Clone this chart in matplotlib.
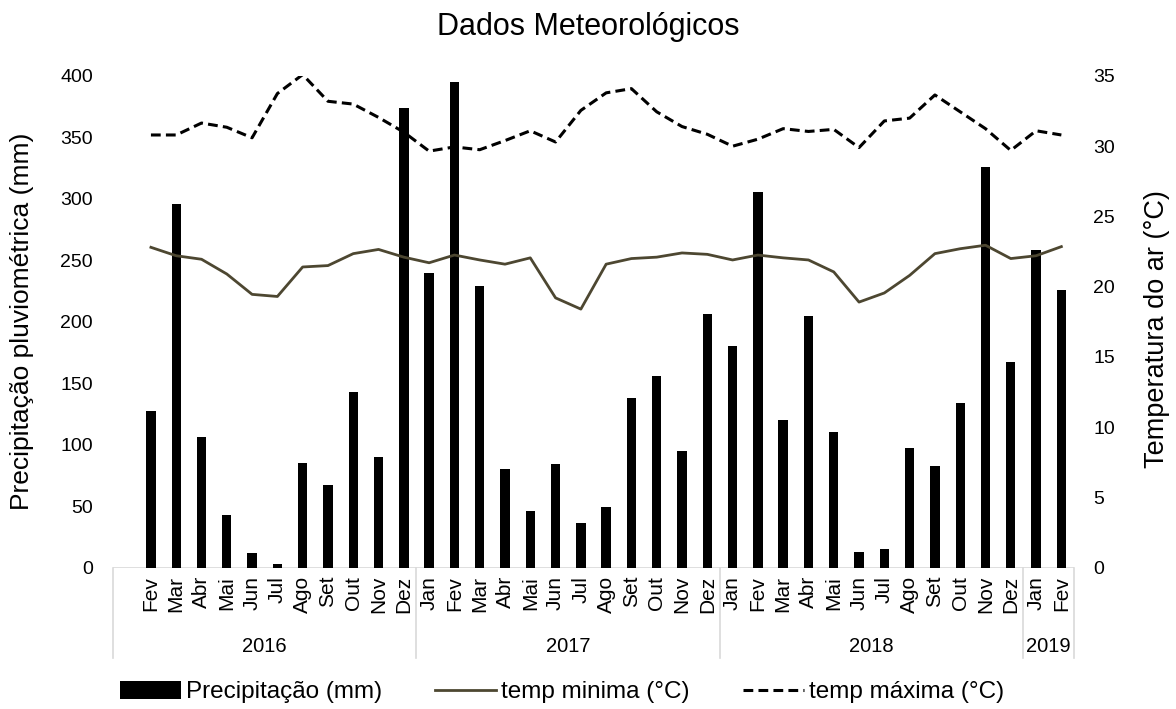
import matplotlib
matplotlib.use("Agg")
import matplotlib.pyplot as plt
import matplotlib.transforms as mtransforms
import numpy as np

plt.rcParams['font.family'] = ['Liberation Sans', 'DejaVu Sans']

# Categories (Jan 2016 is an empty slot in the original chart)
months = ["", "Fev", "Mar", "Abr", "Mai", "Jun", "Jul", "Ago", "Set", "Out", "Nov", "Dez",
          "Jan", "Fev", "Mar", "Abr", "Mai", "Jun", "Jul", "Ago", "Set", "Out", "Nov", "Dez",
          "Jan", "Fev", "Mar", "Abr", "Mai", "Jun", "Jul", "Ago", "Set", "Out", "Nov", "Dez",
          "Jan", "Fev"]
years = ["2016", "2017", "2018", "2019"]
year_sizes = [12, 12, 12, 2]

precip = [np.nan, 127, 296, 106, 43, 12, 3, 85, 67, 143, 90, 374,
          240, 395, 229, 80, 46, 84, 36, 49, 138, 156, 95, 206,
          180, 306, 120, 205, 110, 12.5, 15, 97.5, 82.5, 134, 326, 167,
          258, 226]
temp_min = [np.nan, 22.8, 22.2, 21.95, 20.9, 19.45, 19.3, 21.4, 21.5, 22.35, 22.65, 22.1,
            21.7, 22.25, 21.9, 21.6, 22.05, 19.2, 18.4, 21.6, 22.0, 22.1, 22.4, 22.3,
            21.9, 22.25, 22.05, 21.9, 21.05, 18.9, 19.55, 20.8, 22.35, 22.7, 22.95, 22.0,
            22.2, 22.85]
temp_max = [np.nan, 30.8, 30.8, 31.65, 31.35, 30.6, 33.75, 35.1, 33.2, 33.0, 32.05, 31.0,
            29.65, 29.95, 29.75, 30.4, 31.1, 30.3, 32.55, 33.8, 34.1, 32.45, 31.4, 30.85,
            30.0, 30.5, 31.25, 31.05, 31.2, 29.9, 31.8, 32.0, 33.65, 32.45, 31.25, 29.7,
            31.1, 30.8]

W, H = 1176, 709
fig = plt.figure(figsize=(W / 100, H / 100), dpi=100)
x0, x1 = 113, 1074
y_top, y_bot = 76, 567.5
ax = fig.add_axes([x0 / W, 1 - y_bot / H, (x1 - x0) / W, (y_bot - y_top) / H])
ax2 = ax.twinx()

x = np.arange(len(months))
ax.bar(x, precip, width=0.37, color="black", zorder=2, label="Precipitação (mm)")
ax2.plot(x, temp_min, color="#4d4731", lw=2.0, label="temp minima (°C)")
ax2.plot(x, temp_max, color="black", lw=2.2, dashes=(3.2, 1.7), label="temp máxima (°C)")

ax.set_xlim(-0.5, len(months) - 0.5)
ax.set_ylim(0, 400)
ax2.set_ylim(0, 35)
ax.set_yticks(np.arange(0, 401, 50))
ax2.set_yticks(np.arange(0, 36, 5))

for a in (ax, ax2):
    for s in a.spines.values():
        s.set_visible(False)
ax.tick_params(axis='y', length=0, pad=14.4, labelsize=14)
ax2.tick_params(axis='y', length=0, pad=13.7, labelsize=14)
ax.set_xticks(x)
ax.set_xticklabels(months, rotation=90, fontsize=15)
ax.tick_params(axis='x', length=0, pad=6)

grey = "#d9d9d9"
# category axis box
ax.axhline(0, color=grey, lw=1.2, zorder=1)
trans = mtransforms.blended_transform_factory(ax.transData, ax.transAxes)
box_bottom = -(658 - y_bot) / (y_bot - y_top)
bounds = [-0.5]
for n in year_sizes:
    bounds.append(bounds[-1] + n)
for b in bounds:
    ax.plot([b, b], [0, box_bottom], color=grey, lw=1.2, transform=trans, clip_on=False)
year_y = -(646 - y_bot) / (y_bot - y_top)
for i, yr in enumerate(years):
    cx = (bounds[i] + bounds[i + 1]) / 2
    ax.text(cx, year_y, yr, transform=trans, ha='center', va='center', fontsize=14.5)

ax.set_ylabel("Precipitação pluviométrica (mm)", fontsize=19)
ax.yaxis.set_label_coords((22 - x0) / (x1 - x0), 0.5)
ax.yaxis.label.set_va('center')
ax2.set_ylabel("Temperatura do ar (°C)", fontsize=19.5)
ax2.yaxis.set_label_coords((1157 - x0) / (x1 - x0), 0.485)
ax2.yaxis.label.set_va('center')
fig.text(0.5, 1 - 27 / H, "Dados Meteorológicos", ha='center', va='center', fontsize=22)

h1, l1 = ax.get_legend_handles_labels()
h2, l2 = ax2.get_legend_handles_labels()
fig.legend(h1 + h2, l1 + l2, loc='center', bbox_to_anchor=(562 / W, 1 - 692 / H), ncol=3,
           frameon=False, fontsize=17.5, handlelength=2.5, handletextpad=0.2,
           columnspacing=2.2, handleheight=0.8, borderpad=0)

fig.savefig("out.png", dpi=100)
